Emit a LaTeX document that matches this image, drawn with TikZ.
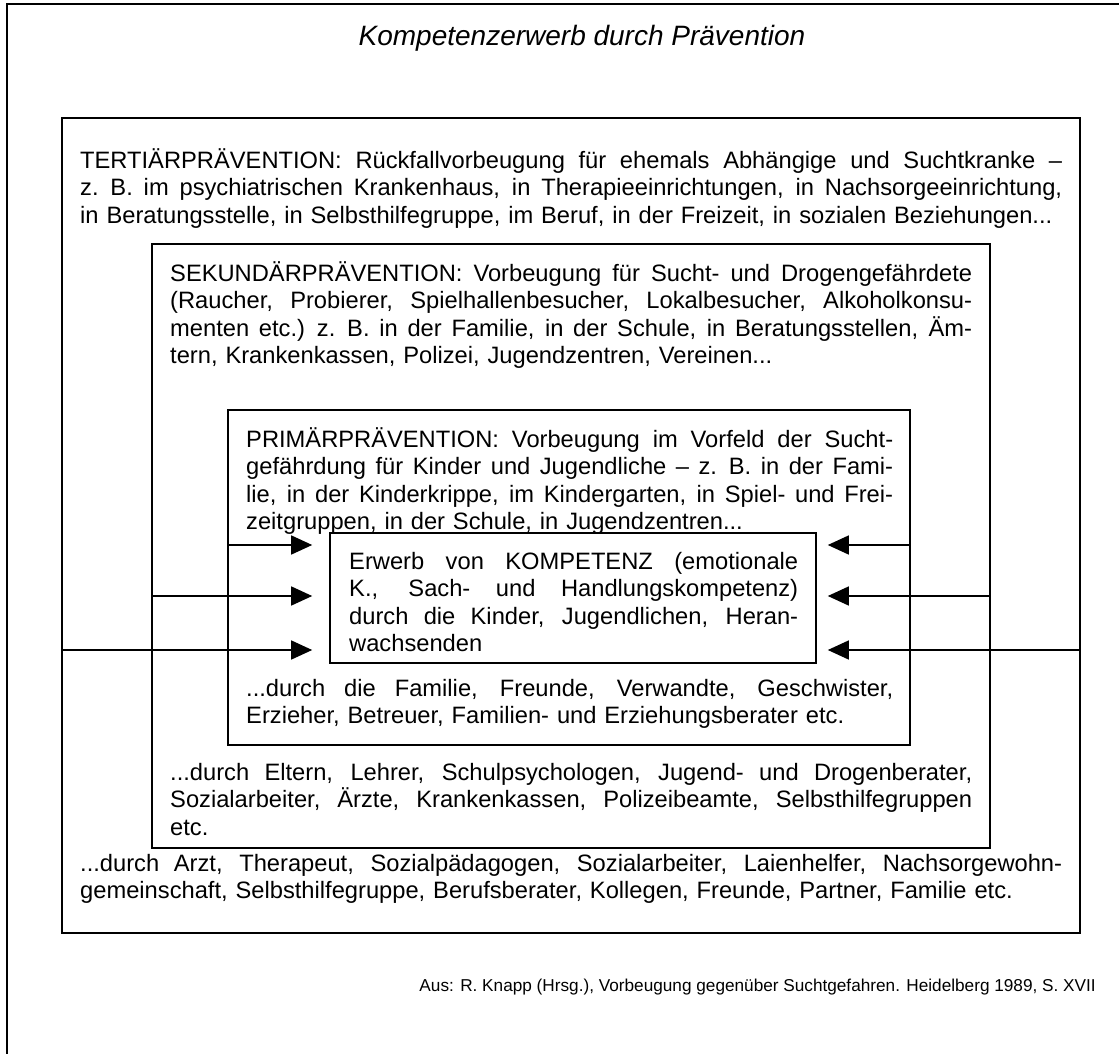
\documentclass[tikz,border=0pt]{standalone}
\usepackage{fontspec}
\setmainfont{Liberation Sans}
\usetikzlibrary{arrows.meta}
\newcommand\jl[1]{\leavevmode\hbox to \linewidth{\spaceskip=.278em plus 1fil minus .14em\relax #1}}
\tikzset{
  box/.style={draw, line width=1.6pt, inner sep=0pt},
  txt/.style={anchor=base west, inner sep=0pt, align=left, font=\fontsize{23.7}{27.6}\selectfont},
  arr/.style={line width=1.4pt, -{Triangle[length=21pt,width=19pt]}, shorten >=17pt},
  arrr/.style={line width=1.4pt, -{Triangle[length=21pt,width=19pt]}, shorten >=11pt},
}
\begin{document}
\begin{tikzpicture}[x=1pt,y=-1pt]
\useasboundingbox (0,0) rectangle (1119,1054);
% outer frame
\draw[line width=1.6pt] (7,1060) -- (7,4) -- (1125,4);
\node[font=\fontsize{28}{32}\itshape] (title) at (582,38) {Kompetenzerwerb durch Prävention};
% boxes
\draw[box] (62,118) rectangle (1080,933);
\draw[box] (152,244) rectangle (990,848);
\draw[box] (228,410) rectangle (910,745);
\node[box, minimum width=486pt, minimum height=130pt] (komp) at (573,598) {};
\coordinate (tl) at (62,650); \coordinate (tr) at (1080,650);
\coordinate (sl) at (152,596); \coordinate (sr) at (990,596);
\coordinate (pl) at (228,545); \coordinate (pr) at (910,545);
% texts
\node[txt, text width=982pt] (t1) at (80,168) {\jl{TERTIÄRPRÄVENTION: Rückfallvorbeugung für ehemals Abhängige und Suchtkranke –}\\
\jl{z. B. im psychiatrischen Krankenhaus, in Therapieeinrichtungen, in Nachsorgeeinrichtung,}\\
in Beratungsstelle, in Selbsthilfegruppe, im Beruf, in der Freizeit, in sozialen Beziehungen...};
\node[txt, text width=802pt] (s1) at (170,281) {\jl{SEKUNDÄRPRÄVENTION: Vorbeugung für Sucht- und Drogengefährdete}\\
\jl{(Raucher, Probierer, Spielhallenbesucher, Lokalbesucher, Alkoholkonsu-}\\
\jl{menten etc.) z. B. in der Familie, in der Schule, in Beratungsstellen, Äm-}\\
tern, Krankenkassen, Polizei, Jugendzentren, Vereinen...};
\node[txt, text width=647pt] (p1) at (246,447) {\jl{PRIMÄRPRÄVENTION: Vorbeugung im Vorfeld der Sucht-}\\
\jl{gefährdung für Kinder und Jugendliche – z. B. in der Fami-}\\
\jl{lie, in der Kinderkrippe, im Kindergarten, in Spiel- und Frei-}\\
zeitgruppen, in der Schule, in Jugendzentren...};
\node[txt, text width=449pt] (k1) at (349,569) {\jl{Erwerb von KOMPETENZ (emotionale}\\
\jl{K., Sach- und Handlungskompetenz)}\\
\jl{durch die Kinder, Jugendlichen, Heran-}\\
wachsenden};
\node[txt, text width=647pt] (p2) at (246,696) {\jl{...durch die Familie, Freunde, Verwandte, Geschwister,}\\
Erzieher, Betreuer, Familien- und Erziehungsberater etc.};
\node[txt, text width=802pt] (s2) at (170,780) {\jl{...durch Eltern, Lehrer, Schulpsychologen, Jugend- und Drogenberater,}\\
\jl{Sozialarbeiter, Ärzte, Krankenkassen, Polizeibeamte, Selbsthilfegruppen}\\
etc.};
\node[txt, text width=982pt] (t2) at (80,871) {\jl{...durch Arzt, Therapeut, Sozialpädagogen, Sozialarbeiter, Laienhelfer, Nachsorgewohn-}\\
gemeinschaft, Selbsthilfegruppe, Berufsberater, Kollegen, Freunde, Partner, Familie etc.};
\node[anchor=base east, inner sep=0pt, font=\fontsize{17.2}{20}\selectfont] (src) at (1096,991) {Aus: R. Knapp (Hrsg.), Vorbeugung gegenüber Suchtgefahren. Heidelberg 1989, S. XVII};
% arrows
\draw[arr] (pl) -- (komp.west |- pl);
\draw[arr] (sl) -- (komp.west |- sl);
\draw[arr] (tl) -- (komp.west |- tl);
\draw[arrr] (pr) -- (komp.east |- pr);
\draw[arrr] (sr) -- (komp.east |- sr);
\draw[arrr] (tr) -- (komp.east |- tr);
\end{tikzpicture}
\end{document}
